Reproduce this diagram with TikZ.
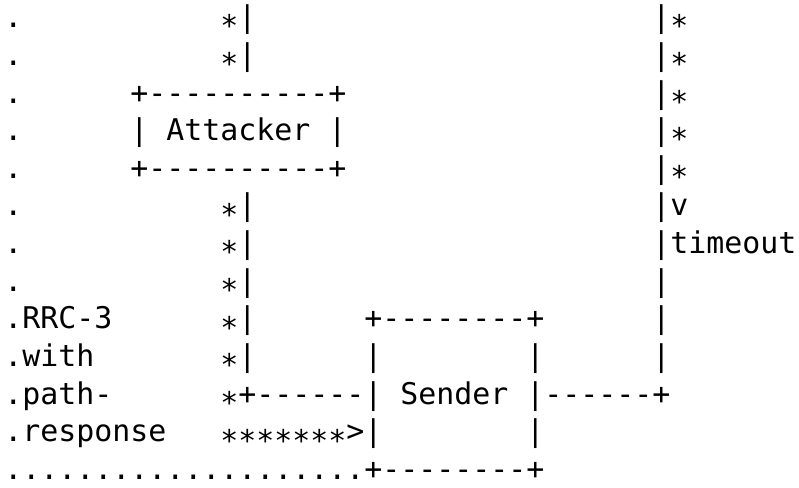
\documentclass[tikz,border=0pt]{standalone}
\usepackage{fontspec}
\setmonofont{DejaVu Sans Mono}
\newcommand\st{\raisebox{-0.31em}{*}}
\tikzset{txt/.style={anchor=base west, inner sep=0pt, outer sep=0pt, font=\ttfamily\fontsize{29.9}{36}\selectfont}}
\newcommand\place[4]{\node[txt] (#1) at ({4.3+18*#2},{-27.7-37.65*#3}) {#4};}
\begin{document}
\begin{tikzpicture}[x=1pt,y=1pt]
\useasboundingbox (0,0) rectangle (799,-487);
% left dotted column
\place{d0}{0}{0}{.}
\place{d1}{0}{1}{.}
\place{d2}{0}{2}{.}
\place{d3}{0}{3}{.}
\place{d4}{0}{4}{.}
\place{d5}{0}{5}{.}
\place{d6}{0}{6}{.}
\place{d7}{0}{7}{.}
\place{d8}{0}{8}{.RRC-3}
\place{d9}{0}{9}{.with}
\place{d10}{0}{10}{.path-}
\place{d11}{0}{11}{.response}
\place{d12}{0}{12}{....................+--------+}
% attacker column
\place{a0}{12}{0}{\st|}
\place{a1}{12}{1}{\st|}
\place{att1}{7}{2}{+----------+}
\place{att2}{7}{3}{| Attacker |}
\place{att3}{7}{4}{+----------+}
\place{a5}{12}{5}{\st|}
\place{a6}{12}{6}{\st|}
\place{a7}{12}{7}{\st|}
\place{a8}{12}{8}{\st|}
\place{a9}{12}{9}{\st|}
\place{a10}{12}{10}{\st+------| Sender |------+}
\place{a11}{12}{11}{\st\st\st\st\st\st\st>|}
% sender box
\place{s1}{20}{8}{+--------+}
\place{s2l}{20}{9}{|}
\place{s2r}{29}{9}{|}
\place{s4r}{29}{11}{|}
% right column
\place{r0}{36}{0}{|\st}
\place{r1}{36}{1}{|\st}
\place{r2}{36}{2}{|\st}
\place{r3}{36}{3}{|\st}
\place{r4}{36}{4}{|\st}
\place{r5}{36}{5}{|v}
\place{r6}{36}{6}{|timeout}
\place{r7}{36}{7}{|}
\place{r8}{36}{8}{|}
\place{r9}{36}{9}{|}
\end{tikzpicture}
\end{document}
